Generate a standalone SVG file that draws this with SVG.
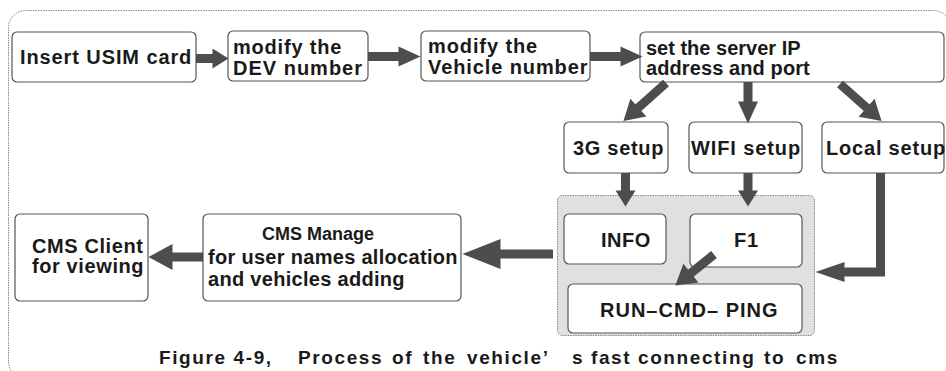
<svg xmlns="http://www.w3.org/2000/svg" width="946" height="371" viewBox="0 0 946 371">
<style>
.box{fill:#fff;stroke:#555;stroke-width:1.2}
.t{font-family:"Liberation Sans",Arial,sans-serif;font-weight:bold;font-size:20px;fill:#1a1a1a;letter-spacing:0.9px}
.cap{font-family:"Liberation Sans",Arial,sans-serif;font-weight:bold;font-size:19px;fill:#1a1a1a;letter-spacing:1.6px}
.c{fill:none;stroke:#4d4d4d;stroke-width:9}
</style>
<defs>
<marker id="hs" markerUnits="userSpaceOnUse" markerWidth="16" markerHeight="20" refX="0.5" refY="10" orient="auto" overflow="visible"><path d="M0,0 L16,10 L0,20 Z" fill="#4d4d4d"/></marker>
<marker id="hm" markerUnits="userSpaceOnUse" markerWidth="22" markerHeight="20" refX="0.5" refY="10" orient="auto" overflow="visible"><path d="M0,0 L22,10 L0,20 Z" fill="#4d4d4d"/></marker>
<marker id="hl" markerUnits="userSpaceOnUse" markerWidth="20" markerHeight="24" refX="0.5" refY="12" orient="auto" overflow="visible"><path d="M0,0 L20,12 L0,24 Z" fill="#4d4d4d"/></marker>
<marker id="hw" markerUnits="userSpaceOnUse" markerWidth="29" markerHeight="20" refX="0.5" refY="10" orient="auto" overflow="visible"><path d="M0,0 L29,10 L0,20 Z" fill="#4d4d4d"/></marker>
<marker id="hx" markerUnits="userSpaceOnUse" markerWidth="38" markerHeight="30" refX="0.5" refY="15" orient="auto" overflow="visible"><path d="M0,0 L38,15 L0,30 Z" fill="#4d4d4d"/></marker>
<marker id="hy" markerUnits="userSpaceOnUse" markerWidth="24" markerHeight="26" refX="0.5" refY="13" orient="auto" overflow="visible"><path d="M0,0 L24,13 L0,26 Z" fill="#4d4d4d"/></marker>
</defs>
<rect id="frame" x="8.5" y="10.5" width="942" height="368" rx="17" fill="none" stroke="#888" stroke-width="1" stroke-dasharray="1.5 1"/>
<g id="group-box"><rect x="557.5" y="195.5" width="257" height="140" rx="5" fill="#e0e0e0" stroke="#888" stroke-width="1" stroke-dasharray="1.5 1"/></g>
<g id="n-usim"><rect class="box" x="12" y="32" width="184" height="50" rx="5"/><text class="t" x="20" y="64">Insert USIM card</text></g>
<g id="n-dev"><rect class="box" x="228" y="31" width="140" height="50" rx="5"/><text class="t" x="233" y="54" style="letter-spacing:0.8px">modify the</text><text class="t" x="233" y="75" style="letter-spacing:1px">DEV number</text></g>
<g id="n-vehicle"><rect class="box" x="421" y="31" width="169" height="50" rx="5"/><text class="t" x="428" y="53">modify the</text><text class="t" x="428" y="74">Vehicle number</text></g>
<g id="n-server"><rect class="box" x="640" y="32" width="304" height="50" rx="5"/><text class="t" x="646" y="55" style="letter-spacing:0">set the server IP</text><text class="t" x="646" y="75" style="letter-spacing:0.1px">address and port</text></g>
<g id="n-3g"><rect class="box" x="564" y="122" width="104" height="51" rx="5"/><text class="t" x="573" y="155" style="letter-spacing:0.7px">3G setup</text></g>
<g id="n-wifi"><rect class="box" x="689" y="122" width="113" height="51" rx="5"/><text class="t" x="691" y="155">WIFI setup</text></g>
<g id="n-local"><rect class="box" x="822" y="122" width="122" height="51" rx="5"/><text class="t" x="826" y="155" style="letter-spacing:0.8px">Local setup</text></g>
<g id="n-info"><rect class="box" x="564" y="214" width="102" height="50" rx="5"/><text class="t" x="601" y="247" style="letter-spacing:0.5px">INFO</text></g>
<g id="n-f1"><rect class="box" x="690" y="214" width="112" height="53" rx="5"/><text class="t" x="734" y="247">F1</text></g>
<g id="n-run"><rect class="box" x="568" y="284" width="234" height="49" rx="5"/><text class="t" x="600" y="317" style="letter-spacing:1px">RUN–CMD– PING</text></g>
<g id="n-client"><rect class="box" x="15" y="214" width="133" height="87" rx="5"/><text class="t" x="32" y="253" style="letter-spacing:0.6px">CMS  Client</text><text class="t" x="32" y="273" style="letter-spacing:0.6px">for  viewing</text></g>
<g id="n-manage"><rect class="box" x="203" y="214" width="258" height="87" rx="5"/><text class="t" x="262" y="240" style="font-size:18px;letter-spacing:0">CMS Manage</text><text class="t" x="208" y="264" style="letter-spacing:0.3px">for user names allocation</text><text class="t" x="208" y="286" style="letter-spacing:0.3px">and vehicles adding</text></g>
<g id="connectors">
<line class="c" x1="196" y1="58.5" x2="213" y2="58.5" marker-end="url(#hs)"/>
<line class="c" x1="368" y1="56.5" x2="399" y2="56.5" marker-end="url(#hm)"/>
<line class="c" x1="590" y1="56.5" x2="621" y2="56.5" marker-end="url(#hm)"/>
<line class="c" x1="666" y1="83" x2="638" y2="108" marker-end="url(#hl)"/>
<line class="c" x1="748" y1="82" x2="748" y2="102" marker-end="url(#hm)"/>
<line class="c" x1="840" y1="84" x2="867" y2="108" marker-end="url(#hl)"/>
<line class="c" x1="625.5" y1="173" x2="625.5" y2="191" marker-end="url(#hs)"/>
<line class="c" x1="748" y1="173" x2="748" y2="191" marker-end="url(#hs)"/>
<path class="c" d="M880.5,173 V272 H844" stroke-linejoin="miter" marker-end="url(#hw)"/>
<line class="c" x1="714" y1="254.5" x2="690.5" y2="273.4" marker-end="url(#hl)"/>
<line class="c" x1="553" y1="254" x2="500" y2="254" stroke-width="12" marker-end="url(#hx)"/>
<line class="c" x1="203" y1="257" x2="172" y2="257" stroke-width="10" marker-end="url(#hy)"/>
</g>
<text class="cap" y="364"><tspan x="159">Figure 4-9,</tspan><tspan x="298">Process</tspan><tspan x="392">of</tspan><tspan x="423">the</tspan><tspan x="467">vehicle’</tspan><tspan x="572">s</tspan><tspan x="591">fast</tspan><tspan x="638">connecting</tspan><tspan x="764">to</tspan><tspan x="796">cms</tspan></text>
</svg>
